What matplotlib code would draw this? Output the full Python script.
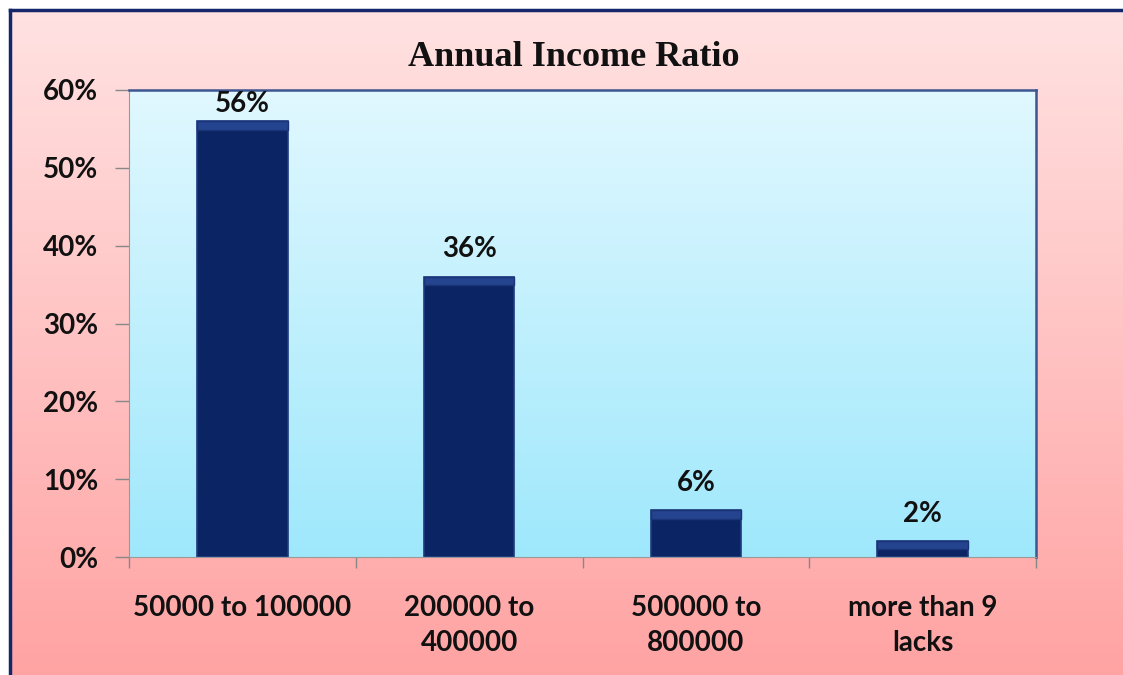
import numpy as np
import matplotlib
matplotlib.use("Agg")
import matplotlib.pyplot as plt
from matplotlib.colors import LinearSegmentedColormap

# data
categories = ["50000 to 100000", "200000 to\n400000", "500000 to\n800000", "more than 9\nlacks"]
ratios = [0.56, 0.36, 0.06, 0.02]
yticks = [0, 0.1, 0.2, 0.3, 0.4, 0.5, 0.6]
title = "Annual Income Ratio"

W, H = 1123, 675
fig = plt.figure(figsize=(W / 100, H / 100), dpi=100)
fig.patch.set_facecolor("white")

# pink chart area with dark border on top/left
bg = fig.add_axes([10 / W, 0, 1 - 10 / W, 1 - 10 / H])
pink = LinearSegmentedColormap.from_list("pink", ["#ffa3a3", "#ffe2e2"])
bg.imshow(np.linspace(0, 1, 256).reshape(-1, 1), cmap=pink, origin="lower",
          aspect="auto", extent=(0, 1, 0, 1))
bg.set_xlim(0, 1)
bg.set_ylim(0, 1)
bg.set_xticks([])
bg.set_yticks([])
for s in ["right", "bottom"]:
    bg.spines[s].set_visible(False)
for s in ["top", "left"]:
    bg.spines[s].set_color("#13276a")
    bg.spines[s].set_linewidth(2.5)

fig.text(574 / W, 1 - 58 / H, title, ha="center", va="center",
         fontsize=26, fontweight="bold", family="Liberation Serif", color="#111111")

# plot area
ax = fig.add_axes([129 / W, (H - 557) / H, (1036 - 129) / W, (557 - 90) / H])
blue = LinearSegmentedColormap.from_list("blue", ["#9fe8fc", "#e1f8ff"])
ax.imshow(np.linspace(0, 1, 256).reshape(-1, 1), cmap=blue, origin="lower",
          aspect="auto", extent=(-0.5, 3.5, 0, 0.6), zorder=0)

x = np.arange(len(categories))
ax.bar(x, ratios, width=0.4, color="#0b2463", edgecolor="#1f3a80", linewidth=1.2, zorder=2)
# bevel highlight on top of each bar
band = [min(0.011, v / 2) for v in ratios]
ax.bar(x, band, bottom=[v - b for v, b in zip(ratios, band)], width=0.4,
       color="#25448f", edgecolor="#1a3478", linewidth=1, zorder=3)

for xi, v in zip(x, ratios):
    ax.text(xi, min(v + 0.019, 0.565), f"{v:.0%}", ha="center", va="bottom",
            fontsize=20, fontweight="bold", family="Lato", color="#111111", zorder=4)

ax.set_xlim(-0.5, 3.5)
ax.set_ylim(0, 0.6)
ax.set_yticks(yticks)
ax.set_yticklabels([f"{t:.0%}" for t in yticks])
ax.set_xticks(x)
ax.set_xticklabels(categories, linespacing=1.45)
ax.set_xticks(np.arange(len(categories) + 1) - 0.5, minor=True)
ax.tick_params(axis="x", which="major", length=0, pad=27)
ax.tick_params(axis="x", which="minor", length=8, color="#888888", width=1)
ax.tick_params(axis="y", length=10, color="#888888", width=1, pad=12)
for lab in ax.get_xticklabels() + ax.get_yticklabels():
    lab.set_fontfamily("Lato")
    lab.set_fontweight("bold")
    lab.set_fontsize(20)
    lab.set_color("#111111")
for s in ["left", "bottom"]:
    ax.spines[s].set_color("#999999")
for s in ["top", "right"]:
    ax.spines[s].set_color("#3d5590")
    ax.spines[s].set_linewidth(1.8)

fig.savefig("out.png", dpi=100)
